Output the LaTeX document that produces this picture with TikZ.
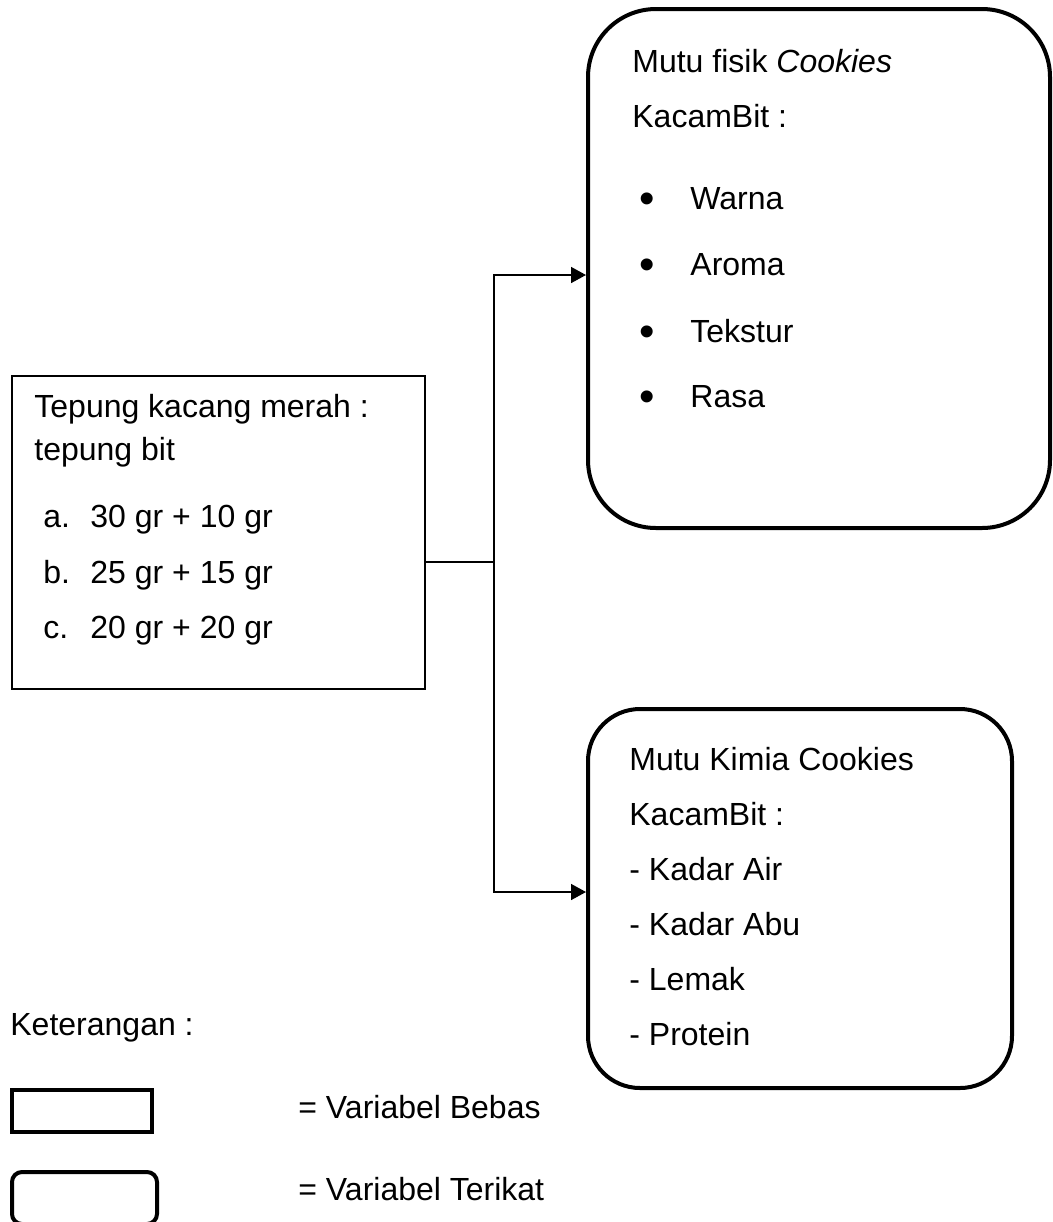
\documentclass[tikz,border=0pt]{standalone}
\usepackage{fontspec}
\setmainfont{Liberation Sans}
\usepackage{tikz}
\usetikzlibrary{arrows.meta,positioning}

\begin{document}
\begin{tikzpicture}[x=0.5pt,y=-0.5pt,
  varbox/.style={draw,line width=0.8pt,minimum width=206.5pt,minimum height=156.5pt,inner sep=0pt},
  dep/.style={draw,line width=2pt,inner sep=0pt},
  txt/.style={anchor=base west,inner sep=0pt,font=\fontsize{16}{19}\selectfont},
  dot/.style={txt,font=\fontsize{22}{22}\selectfont},
  ar/.style={-{Triangle[length=7.5pt,width=8pt]},line width=0.8pt},
  ln/.style={line width=0.8pt}
]
\useasboundingbox (0,0) rectangle (1053,1222);
% independent variable
\node[varbox] (bebas) at (218.5,532.5) {};
\node[txt] (tep1) at (34,417) {Tepung kacang merah :};
\node[txt] (tep2) at (34,460) {tepung bit};
\node[txt] (la) at (43,527) {a.};
\node[txt] (va) at (90,527) {30 gr + 10 gr};
\node[txt] (lb) at (43,583) {b.};
\node[txt] (vb) at (90,583) {25 gr + 15 gr};
\node[txt] (lc) at (43,638) {c.};
\node[txt] (vc) at (90,638) {20 gr + 20 gr};
% dependent variables
\node[dep,rounded corners=34pt,minimum width=231pt,minimum height=259.5pt] (fisik) at (819,268.5) {};
\node[txt] (fis1) at (632,72) {Mutu fisik \textit{Cookies}};
\node[txt] (fis2) at (632,127) {KacamBit :};
\node[dot] (b1) at (639,213) {•};
\node[txt] (warna) at (690,209) {Warna};
\node[dot] (b2) at (639,279) {•};
\node[txt] (aroma) at (690,275) {Aroma};
\node[dot] (b3) at (639,346) {•};
\node[txt] (tekstur) at (690,342) {Tekstur};
\node[dot] (b4) at (639,411) {•};
\node[txt] (rasa) at (690,407) {Rasa};
\node[dep,rounded corners=26pt,minimum width=212pt,minimum height=189.5pt] (kimia) at (800,898.5) {};
\node[txt] (kim1) at (629,770) {Mutu Kimia Cookies};
\node[txt] (kim2) at (629,825) {KacamBit :};
\node[txt] (air) at (629,880) {- Kadar Air};
\node[txt] (abu) at (629,935) {- Kadar Abu};
\node[txt] (lemak) at (629,990) {- Lemak};
\node[txt] (protein) at (629,1045) {- Protein};
% connectors
\coordinate (split) at (494,562);
\draw[ln] ([yshift=-14.75pt]bebas.east) -- (split);
\draw[ar] (split) |- ([yshift=-3.25pt]fisik.west);
\draw[ar] (split) |- ([yshift=3.25pt]kimia.west);
% legend
\node[txt] (ket) at (10,1035) {Keterangan :};
\node[dep,minimum width=70pt,minimum height=21pt] (lgbebas) at (82,1111) {};
\node[txt] (lgbebasT) at (298,1118) {= Variabel Bebas};
\node[dep,rounded corners=5pt,minimum width=72.5pt,minimum height=26pt] (lgterikat) at (84.5,1198) {};
\node[txt] (lgterikatT) at (298,1200) {= Variabel Terikat};
\end{tikzpicture}
\end{document}
